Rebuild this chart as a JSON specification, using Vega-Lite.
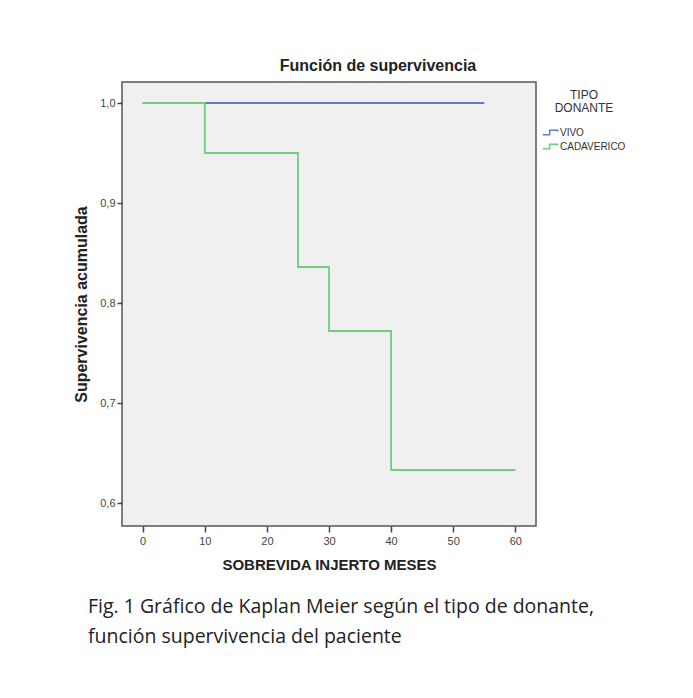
{
  "$schema": "https://vega.github.io/schema/vega-lite/v6.json",
  "padding": {"left": 72, "top": 57, "right": 5, "bottom": 5},
  "background": "white",
  "title": {
    "text": ["Fig. 1 Gráfico de Kaplan Meier según el tipo de donante,", "función supervivencia del paciente"],
    "orient": "bottom",
    "anchor": "start",
    "dx": 15,
    "offset": 25,
    "font": "Open Sans",
    "fontSize": 19.5,
    "fontWeight": "normal",
    "color": "#222222",
    "lineHeight": 30
  },
  "vconcat": [
    {
      "width": 414,
      "height": 444,
      "title": {
        "text": "Función de supervivencia",
        "anchor": "middle",
        "frame": "group",
        "dx": 49,
        "offset": 8,
        "font": "Liberation Sans",
        "fontSize": 16,
        "fontWeight": "bold",
        "color": "#222222"
      },
      "data": {
        "values": [
          {"meses": 0, "surv": 1.0, "tipo": "VIVO"},
          {"meses": 55, "surv": 1.0, "tipo": "VIVO"},
          {"meses": 0, "surv": 1.0, "tipo": "CADAVERICO"},
          {"meses": 10, "surv": 0.95, "tipo": "CADAVERICO"},
          {"meses": 25, "surv": 0.836, "tipo": "CADAVERICO"},
          {"meses": 30, "surv": 0.772, "tipo": "CADAVERICO"},
          {"meses": 40, "surv": 0.633, "tipo": "CADAVERICO"},
          {"meses": 60, "surv": 0.633, "tipo": "CADAVERICO"}
        ]
      },
      "mark": {"type": "line", "interpolate": "step-after", "strokeWidth": 1.8},
      "encoding": {
        "x": {
          "field": "meses",
          "type": "quantitative",
          "scale": {"domain": [-3.33, 63.33], "nice": false, "zero": false},
          "axis": {
            "title": "SOBREVIDA INJERTO MESES",
            "values": [0, 10, 20, 30, 40, 50, 60],
            "domain": false,
            "grid": false,
            "tickColor": "#444444",
            "tickSize": 6,
            "tickWidth": 1.5,
            "labelFont": "Liberation Sans",
            "labelFontSize": 11,
            "labelColor": "#444444",
            "labelPadding": 3,
            "titleFont": "Liberation Sans",
            "titleFontSize": 15,
            "titleFontWeight": "bold",
            "titleColor": "#222222",
            "titlePadding": 11
          }
        },
        "y": {
          "field": "surv",
          "type": "quantitative",
          "scale": {"domain": [0.577, 1.021], "nice": false, "zero": false},
          "axis": {
            "title": "Supervivencia acumulada",
            "values": [0.6, 0.7, 0.8, 0.9, 1.0],
            "labelExpr": "replace(format(datum.value, '.1f'), '.', ',')",
            "domain": false,
            "grid": false,
            "tickColor": "#444444",
            "tickSize": 5,
            "tickWidth": 1.5,
            "labelFont": "Liberation Sans",
            "labelFontSize": 11,
            "labelColor": "#444444",
            "labelPadding": 2,
            "titleFont": "Liberation Sans",
            "titleFontSize": 16,
            "titleFontWeight": "bold",
            "titleColor": "#222222",
            "titlePadding": 10
          }
        },
        "color": {
          "field": "tipo",
          "type": "nominal",
          "sort": ["VIVO", "CADAVERICO"],
          "scale": {"domain": ["VIVO", "CADAVERICO"], "range": ["#6479cf", "#6dcf7c"]},
          "legend": {
            "title": ["TIPO", "DONANTE"],
            "orient": "right",
            "offset": -3,
            "padding": 8,
            "titleFont": "Liberation Sans",
            "titleFontSize": 12,
            "titleFontWeight": "normal",
            "titleColor": "#333333",
            "titleAnchor": "middle",
            "titleAlign": "center",
            "titleLineHeight": 13,
            "titlePadding": 9,
            "labelFont": "Liberation Sans",
            "labelFontSize": 10,
            "labelColor": "#333333",
            "labelOffset": 1,
            "symbolType": "M-1,0.3H-0.1V-0.3H0.9V-0.1",
            "symbolSize": 240,
            "symbolStrokeWidth": 1.5,
            "symbolFillColor": "transparent",
            "rowPadding": 0
          }
        },
        "order": {"field": "tipo", "sort": "descending"}
      }
    }
  ],
  "config": {
    "view": {"fill": "#f0f0f0", "stroke": "#555555", "strokeWidth": 1.5}
  }
}
